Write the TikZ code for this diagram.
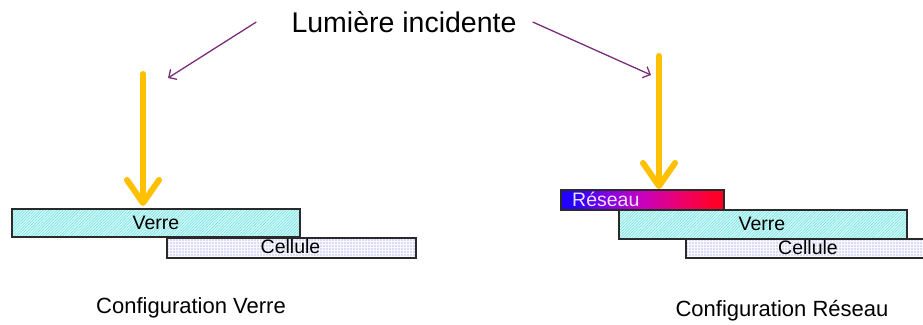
\documentclass[tikz,border=0pt]{standalone}
\usepackage{fontspec}
\setmainfont{Liberation Sans}
\usetikzlibrary{arrows.meta,patterns.meta}
\definecolor{lightyel}{HTML}{FFC000}
\definecolor{plum}{HTML}{7A2E7A}
\definecolor{edge}{HTML}{2A2A2A}
\definecolor{verrefill}{HTML}{D4FAFA}
\definecolor{verreline}{HTML}{6ADCDC}
\definecolor{cellfill}{HTML}{F8F8FF}
\definecolor{celldot}{HTML}{8080E0}
\definecolor{resA}{RGB}{36,0,255}
\definecolor{resB}{RGB}{120,0,230}
\definecolor{resC}{RGB}{200,0,190}
\definecolor{resD}{RGB}{240,0,100}
\definecolor{resE}{RGB}{255,0,40}
\definecolor{restxt}{RGB}{235,225,255}
\pgfdeclarehorizontalshading{reseaushade}{100bp}{color(0bp)=(resA); color(25bp)=(resA); color(29bp)=(resA); color(38bp)=(resB); color(50bp)=(resC); color(63bp)=(resD); color(72bp)=(resE); color(75bp)=(resE); color(100bp)=(resE)}
\tikzset{
  layer/.style={draw=edge, line width=1.6pt, inner sep=0pt, anchor=north west},
  verrebox/.style={layer, preaction={fill=verrefill},
     pattern={Lines[angle=45,distance=2pt,line width=0.5pt]}, pattern color=verreline},
  cellbox/.style={layer, preaction={fill=cellfill},
     pattern={Dots[distance=3pt,radius=0.55pt]}, pattern color=celldot},
  resbox/.style={layer, shading=reseaushade, shading angle=0},
  boxtext/.style={font=\fontsize{19.5}{19.5}\selectfont, inner sep=0pt},
  restext/.style={boxtext, text=restxt, anchor=west},
  light/.style={lightyel, line width=6pt, line cap=round,
     -{Straight Barb[length=23pt,width=32pt,round]}},
  pointer/.style={plum, line width=1.3pt, -{Straight Barb[length=6pt,width=12pt]}},
  caption/.style={font=\fontsize{22}{22}\selectfont, inner sep=0pt},
}
\begin{document}
\begin{tikzpicture}[x=1pt,y=-1pt]
\useasboundingbox (0,0) rectangle (923,324);
% left configuration
\node[cellbox, minimum width=249pt, minimum height=20pt] (c1) at (166,237) {};
\node[boxtext] (c1t) at (290.5,247) {Cellule};
\node[verrebox, minimum width=288pt, minimum height=28pt] (v1) at (12,209) {};
\node[boxtext] (v1t) at (156,223) {Verre};
% right configuration
\node[cellbox, minimum width=250pt, minimum height=19pt] (c2) at (685,238) {};
\node[boxtext] (c2t) at (808,247.5) {Cellule};
\node[verrebox, minimum width=288pt, minimum height=29pt] (v2) at (618,209) {};
\node[boxtext] (v2t) at (762,223.5) {Verre};
\node[resbox, minimum width=163pt, minimum height=20pt] (r2) at (560,189) {};
\node[restext] (r2t) at (572,199) {Réseau};
% light arrows
\coordinate (l1s) at (143,74);
\coordinate (l1e) at (143,206);
\coordinate (l2s) at (659,56);
\coordinate (l2e) at (659,189);
\draw[light] (l1s) -- (l1e);
\draw[light] (l2s) -- (l2e);
% title
\node[font=\fontsize{28.5}{28.5}\selectfont, inner sep=0pt] (title) at (404,22) {Lumière incidente};
\coordinate (p1e) at (168,78);
\coordinate (p2e) at (651,75);
\draw[pointer] ([xshift=-35pt]title.west) -- (p1e);
\draw[pointer] ([xshift=16pt]title.east) -- (p2e);
% captions
\node[caption] (cap1) at (191,308) {Configuration Verre};
\node[caption] (cap2) at (782,311) {Configuration Réseau};
\end{tikzpicture}
\end{document}
